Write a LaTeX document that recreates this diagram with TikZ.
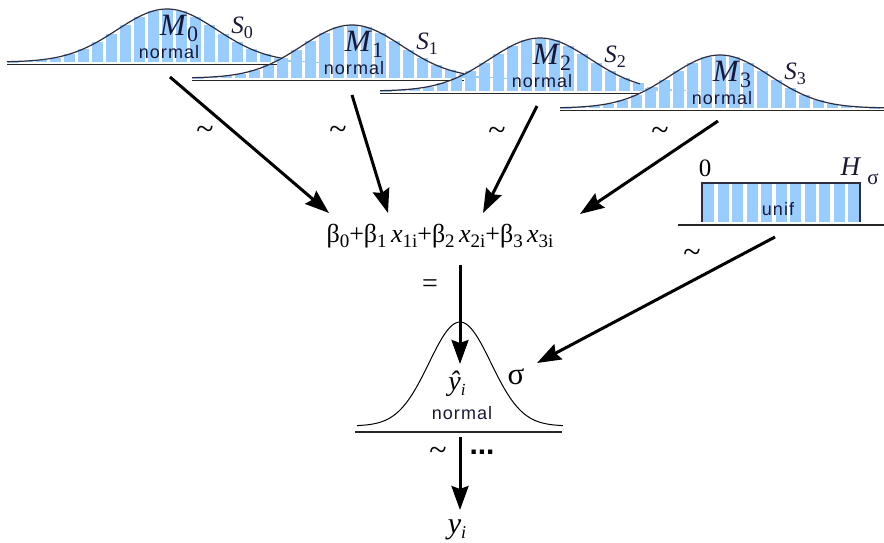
\documentclass[tikz,border=0pt]{standalone}
\usepackage{fontspec}
\setmainfont{Liberation Serif}
\newfontfamily\arialf[LetterSpace=6]{Liberation Sans}
\newfontfamily\arialb{Liberation Sans}
\usetikzlibrary{arrows.meta}
\definecolor{barblue}{RGB}{153,204,255}
\definecolor{curvec}{RGB}{45,45,65}
\definecolor{labc}{RGB}{25,25,55}
\newcommand{\sbs}[3]{\raisebox{-#2pt}{\fontsize{#1}{#1}\selectfont #3}}
\tikzset{
  curve/.style={curvec, line width=1.2pt},
  bcurve/.style={black, line width=1pt},
  baseln/.style={black!85, line width=1.4pt},
  arr/.style={black, line width=3pt, -{Stealth[length=24pt,width=17pt,inset=3pt]}},
  mlab/.style={inner sep=0pt, font=\fontsize{31}{31}\selectfont, text=labc},
  slab/.style={inner sep=0pt, font=\fontsize{25}{25}\selectfont, text=labc},
  dlab/.style={inner sep=0pt, font=\arialf\fontsize{18}{18}\selectfont, text=labc},
  tlab/.style={inner sep=0pt, font=\fontsize{28}{28}\selectfont},
  tild/.style={inner sep=0pt, font=\fontsize{32}{32}\selectfont},
  eqlab/.style={inner sep=0pt, font=\fontsize{26}{26}\selectfont},
}
\newcommand{\topnorm}[4]{%
 \pgfmathsetmacro\bb{#2+53}%
 \foreach \k in {-11,...,11}{%
   \pgfmathsetmacro\hh{53*exp(-0.5*(14*\k/50)*(14*\k/50))}%
   \fill[barblue] ({#1+14*\k-5.5},\bb) rectangle ({#1+14*\k+5.5},{\bb-\hh});
 }
 \draw[baseln] ({#1-160},{\bb+2.5}) -- ({#1+#4},{\bb+2.5});
 \draw[curve] plot[domain=-160:#4,samples=81] ({#1+\x},{\bb-53*exp(-0.5*(\x/50)*(\x/50))});
 \node[mlab, anchor=base] (M#3) at ({#1+12},{#2+26}) {\textit{M}\sbs{22}{6}{#3}};
 \node[dlab, anchor=base] (n#3) at ({#1+2},{#2+49}) {normal};
 \node[slab, anchor=base] (S#3) at ({#1+75},{#2+24}) {\textit{S}\sbs{18}{5}{#3}};
}
\begin{document}
\begin{tikzpicture}[x=1pt,y=-1pt]
\fill[white] (0,0) rectangle (884,542);
\useasboundingbox (0,0) rectangle (884,542);
% top distributions
\topnorm{167}{9}{0}{118}
\topnorm{352}{25}{1}{112}
\topnorm{540}{38}{2}{100}
\topnorm{720}{55}{3}{164}
% uniform
\foreach \k in {0,...,10}{\fill[barblue] ({703+14.5*\k},222) rectangle ++(11,-39);}
\draw[curve] (702,222) -- (702,183) -- (860,183) -- (860,222);
\draw[baseln] (678,225) -- (884,225);
\node[dlab, anchor=base] (unif) at (778,215) {unif};
\node[tlab, anchor=base, font=\fontsize{25}{25}\selectfont] (zero) at (705,176) {0};
\node[mlab, anchor=base, font=\fontsize{27}{27}\selectfont] (H) at (851,175) {\textit{H}};
\node[slab, anchor=base, font=\fontsize{21}{21}\selectfont] (Hs) at (873,184) {σ};
% tildes
\node[tild] (t0) at (205,133) {\textasciitilde};
\node[tild] (t1) at (338,133) {\textasciitilde};
\node[tild] (t2) at (497,134) {\textasciitilde};
\node[tild] (t3) at (660,134) {\textasciitilde};
\node[tild] (tu) at (692,256) {\textasciitilde};
% equation
\node[eqlab, anchor=base] (eq) at (440,242) {β\sbs{19}{5}{0}+β\sbs{19}{5}{1}\,\textit{x}\sbs{19}{5}{1i}+β\sbs{19}{5}{2}\,\textit{x}\sbs{19}{5}{2i}+β\sbs{19}{5}{3}\,\textit{x}\sbs{19}{5}{3i}};
\node[eqlab, font=\fontsize{28}{28}\selectfont] (eqs) at (430,286) {=};
% bottom normal
\draw[bcurve] plot[domain=-103:103,samples=81] ({460+\x},{426-104*exp(-0.5*(\x/31)*(\x/31))});
\draw[baseln] (355,432) -- (562,432);
\node[tlab, anchor=base] (yhat) at (457,390) {\textit{ŷ}\sbs{17}{5}{\textit{i}}};
\node[dlab, anchor=base] (nb) at (462,419) {normal};
\node[tlab, anchor=base, font=\fontsize{31}{31}\selectfont] (sig) at (516,384) {σ};
\node[tild] (tb) at (438,454) {\textasciitilde};
\node[inner sep=0pt, font=\arialb\bfseries\fontsize{30}{30}\selectfont] (dots) at (482,452) {...};
\node[tlab, anchor=base, font=\fontsize{30}{30}\selectfont] (yi) at (457,533) {\textit{y}\sbs{18}{5}{\textit{i}}};
% arrows
\coordinate (a0s) at (170,77);  \coordinate (a0e) at (329,213);
\coordinate (a1s) at (352,95);  \coordinate (a1e) at (388,213);
\coordinate (a2s) at (537,106); \coordinate (a2e) at (483,213);
\coordinate (a3s) at (718,121); \coordinate (a3e) at (580,214);
\coordinate (aus) at (775,237); \coordinate (aue) at (537,363);
\coordinate (aes) at (460,265); \coordinate (aee) at (460,364);
\coordinate (ays) at (460,437); \coordinate (aye) at (460,510);
\draw[arr] (a0s) -- (a0e);
\draw[arr] (a1s) -- (a1e);
\draw[arr] (a2s) -- (a2e);
\draw[arr] (a3s) -- (a3e);
\draw[arr] (aus) -- (aue);
\draw[arr] (aes) -- (aee);
\draw[arr] (ays) -- (aye);
\end{tikzpicture}
\end{document}
